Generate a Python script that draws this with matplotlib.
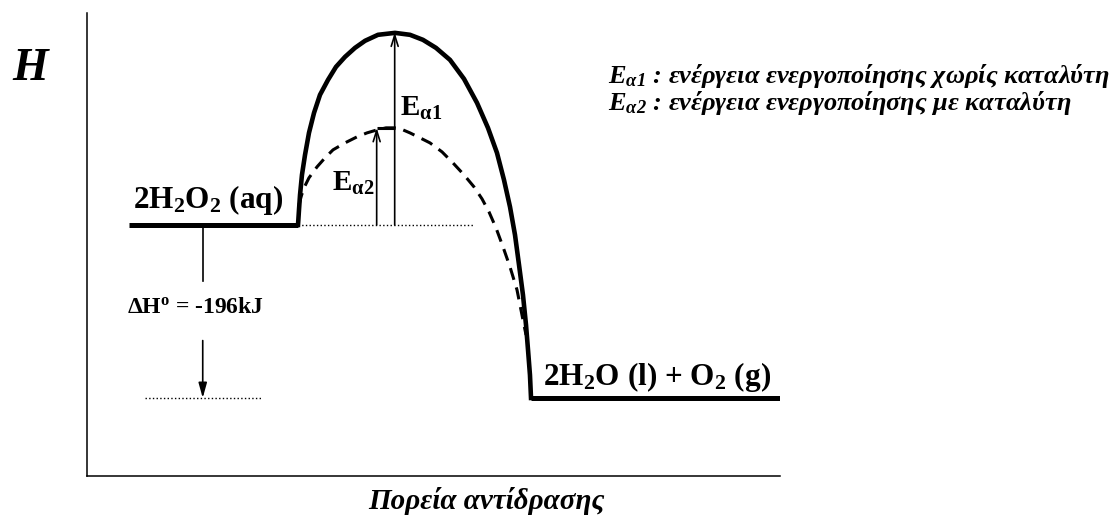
import matplotlib
matplotlib.use('Agg')
import matplotlib.pyplot as plt

plt.rcParams['font.family'] = ['Liberation Serif', 'DejaVu Serif']
plt.rcParams['mathtext.fontset'] = 'custom'
plt.rcParams['mathtext.rm'] = 'Liberation Serif'
plt.rcParams['mathtext.it'] = 'Liberation Serif:italic'
plt.rcParams['mathtext.bf'] = 'Liberation Serif:bold'
plt.rcParams['mathtext.bfit'] = 'Liberation Serif:italic:bold'

# enthalpy levels in kJ, reactants taken as zero
h_reactants = 0
h_products = -196
ea1 = 218   # without catalyst
ea2 = 110   # with catalyst

# reaction coordinate, arbitrary units 0-100
x_reactants = [6, 30.4]
x_products = [64.0, 100]
x_ea1 = 44.4
x_ea2 = 41.8

# barrier without catalyst
curve_x = [30.45, 30.59, 30.74, 31.02, 31.46, 32.03, 32.76, 33.62, 34.78, 35.93, 37.23,
           38.67, 40.12, 41.99, 44.44, 46.61, 48.48, 50.36, 52.38, 54.40, 56.28, 57.86,
           59.16, 60.17, 61.04, 61.76, 62.34, 62.91, 63.35, 63.64, 63.92, 64.07]
curve_h = [0, 17.0, 34.0, 56.7, 79.3, 104.2, 126.9, 147.3, 164.3, 179.0, 190.3,
           200.5, 208.5, 215.3, 217.5, 215.3, 209.6, 200.5, 186.9, 165.4, 138.2, 109.9,
           81.6, 51.0, 20.4, -11.3, -45.3, -79.3, -113.3, -141.6, -170.0, -196]

# barrier with catalyst
cat_x = [30.59, 30.88, 31.31, 32.03, 33.19, 34.34, 35.50, 37.23, 38.96, 40.40, 41.85,
         43.15, 44.44, 45.60, 46.61, 48.05, 49.49, 51.23, 52.81, 54.40, 55.84, 57.00,
         58.01, 59.02, 60.03, 61.04, 62.05, 62.48, 62.91, 63.35]
cat_h = [22.7, 31.7, 41.9, 53.3, 65.7, 75.9, 85.0, 92.9, 99.7, 104.2, 107.6,
         109.9, 109.9, 107.6, 104.2, 98.6, 92.9, 82.7, 70.2, 56.7, 43.1, 29.5,
         14.7, -3.4, -24.9, -47.6, -73.6, -90.6, -107.6, -124.6]

W, H = 1116, 516
fig = plt.figure(figsize=(W / 100, H / 100), dpi=100)
ax = fig.add_axes([87 / W, 1 - 476 / H, 693 / W, 463 / H])
ax.set_xlim(0, 100)
ax.set_ylim(-284.4, 240)
for s in ['top', 'right']:
    ax.spines[s].set_visible(False)
for s in ['left', 'bottom']:
    ax.spines[s].set_linewidth(1.1)
ax.set_xticks([])
ax.set_yticks([])

# levels
ax.plot(x_reactants, [h_reactants] * 2, color='black', lw=3.6, solid_capstyle='butt')
ax.plot(x_products, [h_products] * 2, color='black', lw=3.6, solid_capstyle='butt')

# barriers
ax.plot(curve_x, curve_h, color='black', lw=3.3, solid_joinstyle='round')
ax.plot(cat_x, cat_h, color='black', lw=2.2, dashes=(4, 2.6))

# reference dotted lines
ax.plot([x_reactants[1], 55.7], [h_reactants] * 2, color='black', lw=1, ls=':')
ax.plot([8.4, 25.3], [h_products] * 2, color='black', lw=1, ls=':')

# activation energy arrows
ax.annotate('', xy=(x_ea1, ea1), xytext=(x_ea1, h_reactants),
            arrowprops=dict(arrowstyle='->,head_length=0.8,head_width=0.25',
                            lw=1.2, color='black', shrinkA=0, shrinkB=0))
ax.annotate('', xy=(x_ea2, ea2), xytext=(x_ea2, h_reactants),
            arrowprops=dict(arrowstyle='->,head_length=0.8,head_width=0.25',
                            lw=1.2, color='black', shrinkA=0, shrinkB=0))
ax.plot([x_ea2, x_ea1], [ea2, ea2], color='black', lw=2.2, solid_capstyle='butt')

# enthalpy change
ax.plot([16.7, 16.7], [h_reactants - 3, -64], color='black', lw=1.2)
ax.annotate('', xy=(16.7, h_products), xytext=(16.7, -131),
            arrowprops=dict(arrowstyle='-|>,head_length=0.9,head_width=0.25',
                            lw=1.2, color='black', shrinkA=0, shrinkB=0))
ax.text(15.7, -94, r'ΔH$^{\mathbf{o}}$ = -196kJ', ha='center', va='center',
        fontsize=17, fontweight='bold')

# species labels
ax.text(6.6, 19, r'$\mathbf{2H_2O_2}$ (aq)', ha='left', va='baseline',
        fontsize=22.5, fontweight='bold')
ax.text(65.8, -181, r'$\mathbf{2H_2O}$ (l) + $\mathbf{O_2}$ (g)', ha='left', va='baseline',
        fontsize=22.5, fontweight='bold')
ax.text(45.2, 132, r'$\mathbf{E_{α1}}$', ha='left', va='center', fontsize=21)
ax.text(35.4, 47, r'$\mathbf{E_{α2}}$', ha='left', va='center', fontsize=21)

# outside texts
fig.text(30 / W, 1 - 69 / H, 'H', ha='center', va='center', fontsize=33,
         fontweight='bold', style='italic')
fig.text(608 / W, 1 - 83 / H, r'$\mathbfit{E_{α1}}$ : ενέργεια ενεργοποίησης χωρίς καταλύτη',
         ha='left', va='baseline', fontsize=19, fontweight='bold', style='italic')
fig.text(608 / W, 1 - 110 / H, r'$\mathbfit{E_{α2}}$ : ενέργεια ενεργοποίησης με καταλύτη',
         ha='left', va='baseline', fontsize=19, fontweight='bold', style='italic')
fig.text(486 / W, 1 - 501 / H, 'Πορεία αντίδρασης', ha='center', va='center',
         fontsize=21, fontweight='bold', style='italic')

fig.savefig('out.png', dpi=100)
